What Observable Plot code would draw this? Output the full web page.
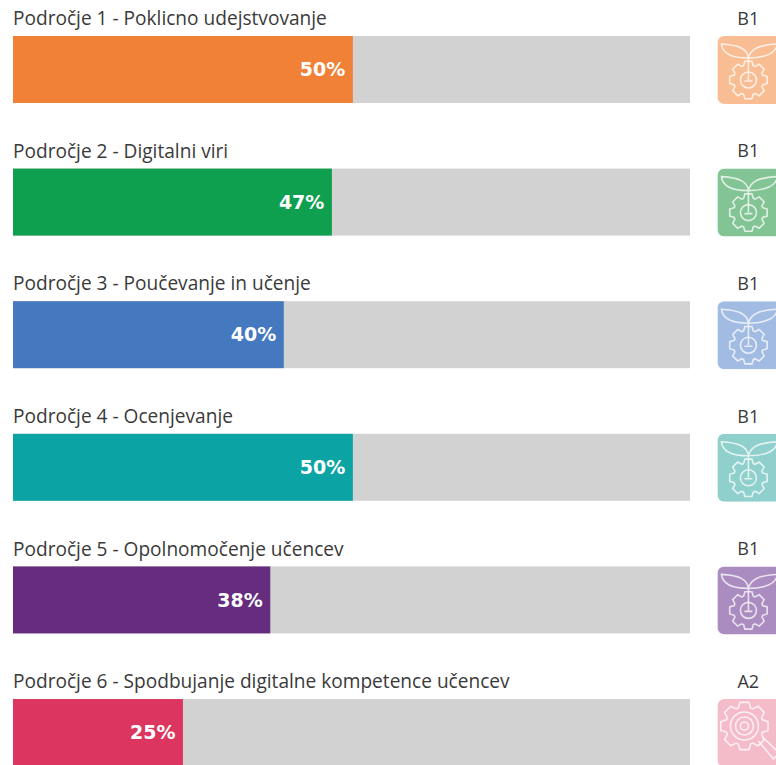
<!DOCTYPE html>
<html><head><meta charset="utf-8">
<script src="https://cdn.jsdelivr.net/npm/d3@7"></script>
<script src="https://cdn.jsdelivr.net/npm/@observablehq/plot@0.6"></script>
<style>html,body{margin:0;padding:0;background:#fff;overflow:hidden}svg{display:block}</style>
</head><body><div id="chart"></div>
<script>
const areas = ["Področje 1 - Poklicno udejstvovanje","Področje 2 - Digitalni viri","Področje 3 - Poučevanje in učenje","Področje 4 - Ocenjevanje","Področje 5 - Opolnomočenje učencev","Področje 6 - Spodbujanje digitalne kompetence učencev"];
const shares = [50,47,40,50,38,25];
const barLengths = [50.2,47.1,40,50.2,38,25.1];
const levels = ["B1","B1","B1","B1","B1","A2"];
const colors = ["#f08136","#0e9f4f","#4479bf","#0ca3a5","#662d7f","#dc3560"];
const iconColors = ["#f9bd93","#83c495","#a2bbe3","#8fd0cc","#ab8cc0","#f4bcc8"];
const rows = areas.map((name,i)=>({name,share:shares[i],len:barLengths[i],level:levels[i],color:colors[i],icon:iconColors[i]}));
const sprout = `<path d="M31 22V44M31 22C30 13 22 9 4 8C5 17 14 22 31 22C48 22 59 17 60 8C41 9 33 13 31 22Z"/>`;
const gearPath = (cx,cy,r,h)=>{const p=[];for(let k=0;k<8;k++){const a=k*Math.PI/4;const b=Math.PI/8-0.06;
  [[a-b,r],[a-b*.55,r+h],[a+b*.55,r+h],[a+b,r]].forEach(([t,q])=>p.push([cx+q*Math.sin(t),cy-q*Math.cos(t)]));}
  return "M"+p.map(d=>d.map(v=>v.toFixed(1)).join(" ")).join("L")+"Z";};
const wrap = (c,body)=>`<svg xmlns="http://www.w3.org/2000/svg" width="68" height="68"><rect width="68" height="68" rx="7" fill="${c}"/><g fill="none" stroke="#fff" stroke-opacity=".75" stroke-width="1.6">${body}</g></svg>`;
const leafIcon = c=>wrap(c,`${sprout}<path d="${gearPath(31,44,15,4)}"/><circle cx="31" cy="44" r="8"/><path d="M27 45h8"/>`);
const targetIcon = c=>wrap(c,`<path d="${gearPath(27,27,19,5)}"/><circle cx="27" cy="27" r="14"/><circle cx="27" cy="27" r="9"/><circle cx="27" cy="27" r="4"/><path d="M41 42L56 60L62 54L45 38"/>`);
const uri = s=>"data:image/svg+xml;utf8,"+encodeURIComponent(s);
const font = "'Open Sans', sans-serif";
const chart = Plot.plot({
  width:776,height:765,margin:0,
  x:{domain:[0,100],range:[13,690],axis:null},
  y:{domain:areas,range:[36,766],round:false,paddingInner:0.495,paddingOuter:0,align:0,axis:null},
  color:{type:"identity"},
  marks:[
    Plot.barX(rows,{x:()=>100,y:"name",fill:"#d2d2d2"}),
    Plot.barX(rows,{x:"len",y:"name",fill:"color"}),
    Plot.text(rows,{x:"len",y:"name",text:d=>d.share+"%",fill:"#fff",textAnchor:"end",dx:-8,fontWeight:700,fontSize:19,fontFamily:"'DejaVu Sans', sans-serif"}),
    Plot.text(rows,{x:()=>0,y:"name",text:"name",textAnchor:"start",dy:-51,dx:-0.5,fill:"#3a3a3a",fontSize:19.1,fontFamily:font}),
    Plot.text(rows,{x:()=>108.6,y:"name",text:"level",textAnchor:"middle",dy:-51,dx:-0.5,fill:"#3a3a3a",fontSize:18,fontFamily:font}),
    Plot.image(rows,{x:()=>109,y:"name",width:68,height:68,src:d=>uri(d.level==="A2"?targetIcon(d.icon):leafIcon(d.icon))})
  ]
});
document.getElementById("chart").append(chart);
</script></body></html>
